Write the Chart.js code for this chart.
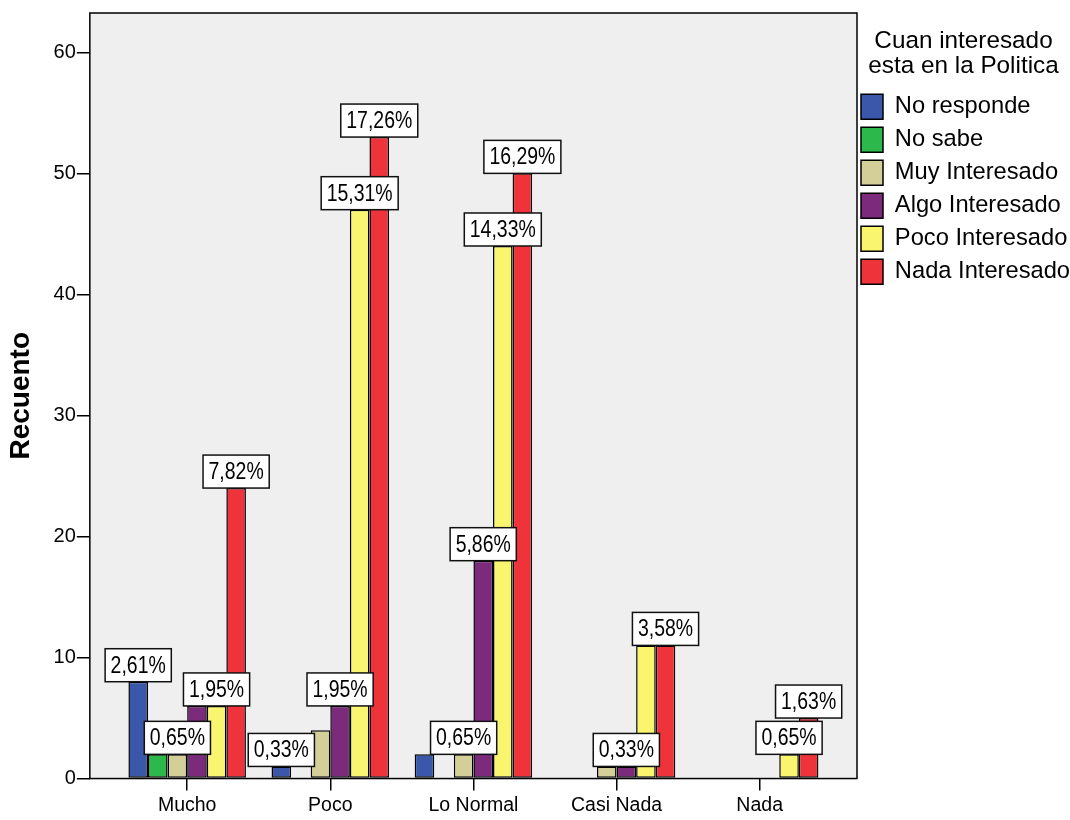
<!DOCTYPE html>
<html><head><meta charset="utf-8">
<script src="https://cdn.jsdelivr.net/npm/chart.js@4/dist/chart.umd.min.js"></script>
<style>html,body{margin:0;padding:0;background:#fff;}canvas{display:block;}</style>
</head><body>
<canvas id="c" width="1070" height="820"></canvas>
<script>
const categories = ['Mucho', 'Poco', 'Lo Normal', 'Casi Nada', 'Nada'];
const seriesNames = ['No responde', 'No sabe', 'Muy Interesado', 'Algo Interesado', 'Poco Interesado', 'Nada Interesado'];
const noResponde     = [8, 1, 2, 0, 0];
const noSabe         = [2, 0, 0, 0, 0];
const muyInteresado  = [2, 4, 2, 1, 0];
const algoInteresado = [6, 6, 18, 1, 0];
const pocoInteresado = [6, 47, 44, 11, 2];
const nadaInteresado = [24, 53, 50, 11, 5];
const totalN = 307;
const yTicks = [0, 10, 20, 30, 40, 50, 60];
const yMax = 63.25;
const legendTitle = ['Cuan interesado', 'esta en la Politica'];
const axisTitle = 'Recuento';

const seriesValues = [noResponde, noSabe, muyInteresado, algoInteresado, pocoInteresado, nadaInteresado];
const colors = ['#3B57A9', '#2DB84B', '#D4CF98', '#7B2A7C', '#FAF56F', '#EF333A'];
const FONT = '"Liberation Sans", Arial, sans-serif';
const X_PAD = 0.68;

Chart.defaults.font.family = FONT;
Chart.defaults.color = '#000';

const bgFrame = {
  id: 'bgFrame',
  afterLayout(chart) {
    const lg = chart.legend;
    if (lg) { lg.left -= 4; lg.width += 8; }
  },
  beforeDraw(chart) {
    const {ctx, chartArea: a} = chart;
    ctx.save();
    ctx.fillStyle = '#EFEFEF';
    ctx.fillRect(a.left, a.top, a.right - a.left, a.bottom - a.top);
    ctx.restore();
  },
  afterDatasetsDraw(chart) {
    const {ctx, chartArea: a} = chart;
    ctx.save();
    ctx.strokeStyle = '#000';
    ctx.lineWidth = 1.5;
    ctx.strokeRect(a.left, a.top, a.right - a.left, a.bottom - a.top);
    ctx.restore();
  }
};

const pctLabels = {
  id: 'pctLabels',
  afterDatasetsDraw(chart) {
    const ctx = chart.ctx;
    const sx = 0.846, padX = 5.5, h = 33;
    ctx.save();
    ctx.font = '23px ' + FONT;
    const placed = [];
    for (let j = 0; j < categories.length; j++) {
      for (let i = chart.data.datasets.length - 1; i >= 0; i--) {
        const v = chart.data.datasets[i].data[j];
        if (v == null) continue;
        const el = chart.getDatasetMeta(i).data[j];
        const text = (v / totalN * 100).toFixed(2).replace('.', ',') + '%';
        const w = ctx.measureText(text).width * sx + 2 * padX;
        const box = {l: el.x - w / 2, r: el.x + w / 2, t: el.y - h, b: el.y, text, cx: el.x};
        if (placed.some(p => box.l < p.r - 1 && box.r > p.l + 1 && box.t < p.b - 1 && box.b > p.t + 1)) continue;
        placed.push(box);
      }
    }
    placed.forEach(b => {
      ctx.fillStyle = '#fff';
      ctx.fillRect(b.l, b.t, b.r - b.l, b.b - b.t);
      ctx.strokeStyle = '#111';
      ctx.lineWidth = 1.5;
      ctx.strokeRect(b.l, b.t, b.r - b.l, b.b - b.t);
      ctx.save();
      ctx.translate(b.cx, (b.t + b.b) / 2 + 1);
      ctx.scale(sx, 1);
      ctx.fillStyle = '#000';
      ctx.textAlign = 'center';
      ctx.textBaseline = 'middle';
      ctx.fillText(b.text, 0, 0);
      ctx.restore();
    });
    ctx.restore();
  }
};

new Chart(document.getElementById('c'), {
  type: 'bar',
  data: {
    labels: categories,
    datasets: seriesNames.map((name, i) => ({
      label: name,
      data: seriesValues[i].map(v => v === 0 ? null : v),
      backgroundColor: colors[i],
      borderColor: '#000',
      borderWidth: 1.5,
      borderSkipped: false,
      categoryPercentage: 0.821,
      barPercentage: 1
    }))
  },
  options: {
    responsive: false,
    animation: false,
    layout: {padding: {top: 11, left: 0, right: 0, bottom: 0}},
    plugins: {
      tooltip: {enabled: false},
      legend: {
        position: 'right',
        align: 'start',
        maxWidth: 213,
        title: {display: true, text: legendTitle, color: '#000', font: {size: 24.3, lineHeight: 1.0}, padding: {top: 18.5, bottom: 32.5}},
        labels: {boxWidth: 22, boxHeight: 25, padding: 8, color: '#000', font: {size: 23.7}}
      }
    },
    scales: {
      x: {
        afterBuildTicks: s => { s._startValue = -X_PAD; s._valueRange = categories.length - 1 + 2 * X_PAD; },
        ticks: {color: '#000', font: {size: 19.5, lineHeight: 1.1}, padding: 4, maxRotation: 0, autoSkip: false},
        grid: {offset: false, drawOnChartArea: false, drawTicks: true, tickLength: 12, color: '#000', lineWidth: 1.5},
        border: {display: false}
      },
      y: {
        min: 0,
        max: yMax,
        afterBuildTicks: s => { s.ticks = yTicks.map(v => ({value: v})); },
        ticks: {color: '#000', font: {size: 20}, padding: 1},
        grid: {drawOnChartArea: false, drawTicks: true, tickLength: 13, color: '#000', lineWidth: 1.5},
        border: {display: false},
        title: {display: true, text: axisTitle, color: '#000', font: {size: 28, weight: 'bold'}, padding: {top: 4, bottom: 15}}
      }
    }
  },
  plugins: [bgFrame, pctLabels]
});
</script>
</body></html>
